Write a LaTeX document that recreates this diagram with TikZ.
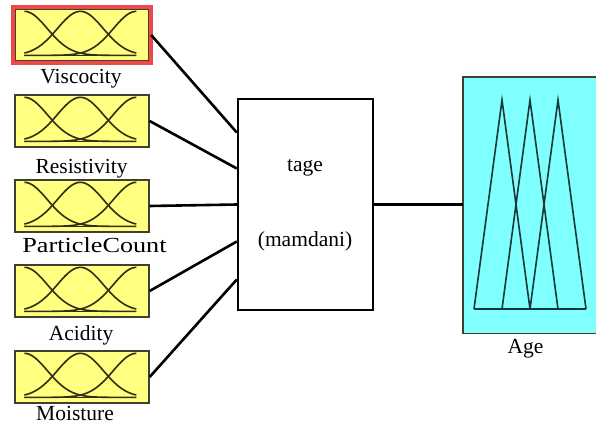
\documentclass[tikz,border=0pt]{standalone}
\usepackage{fontspec}
\setmainfont{Liberation Serif}
\usetikzlibrary{calc}
\definecolor{mfyellow}{HTML}{FFFF80}
\definecolor{mfcyan}{HTML}{80FFFF}
\definecolor{mfred}{HTML}{F04848}
\definecolor{mfcurve}{HTML}{303010}
\definecolor{mfedge}{HTML}{404030}
\definecolor{tricol}{HTML}{183838}
\tikzset{
  inbox/.style={draw=mfedge, line width=1.3pt, fill=mfyellow, minimum width=134pt, minimum height=52pt, inner sep=0pt},
  selbox/.style={draw=mfred, line width=3.5pt},
  mfline/.style={draw=mfcurve, line width=1.6pt},
  conn/.style={draw=black, line width=2.6pt},
  lbl/.style={font=\fontsize{21.5}{25}\selectfont, anchor=base, inner sep=0pt},
  rulebox/.style={draw=black, line width=2.4pt, fill=white, minimum width=135pt, minimum height=211pt, inner sep=0pt},
  outbox/.style={draw=none, fill=mfcyan, minimum width=140pt, minimum height=256pt, inner sep=0pt},
  triline/.style={draw=tricol, line width=1.6pt, line join=miter}
}
\newcommand\mfcurves[1]{%
  \begin{scope}[shift={(#1.north west)}]
    \draw[mfline] plot[domain=0:112, samples=70] ({10+\x}, {3+44*(1-exp(-(\x*\x)/1060))});
    \draw[mfline] plot[domain=0:112, samples=70] ({10+\x}, {3+44*(1-exp(-((\x-56)*(\x-56))/1060))});
    \draw[mfline] plot[domain=0:112, samples=70] ({10+\x}, {3+44*(1-exp(-((\x-112)*(\x-112))/1060))});
    \draw[mfline] (10,47) -- (122,47);
  \end{scope}}
\begin{document}
\begin{tikzpicture}[x=1pt, y=-1pt]
\useasboundingbox (0,0) rectangle (596,428);
\begin{scope}
\clip (0,0) rectangle (596,428);
% output box
\node[outbox, anchor=north west] (age) at (463,77) {};
\draw[mfedge, line width=1.2pt] (age.north east) -- (age.north west) -- (age.south west) -- (age.south east);
\end{scope}
\coordinate (t1) at (474,309);
\coordinate (t2) at (502,309);
\coordinate (t3) at (530,309);
\coordinate (t4) at (558,309);
\coordinate (t5) at (586,309);
\coordinate (p1) at (502,100);
\coordinate (p2) at (530,100);
\coordinate (p3) at (558,100);
\draw[triline] (t1) -- (p1) -- (t3);
\draw[triline] (t2) -- (p2) -- (t4);
\draw[triline] (t3) -- (p3) -- (t5);
\draw[triline] (t1) -- (t5);
\node[lbl] (agel) at (525.5,353) {Age};

% input boxes
\node[inbox] (visc) at (82,35) {};
\node[inbox] (resi) at (82,121) {};
\node[inbox] (part) at (82,206) {};
\node[inbox] (acid) at (82,291) {};
\node[inbox] (mois) at (82,377) {};
\mfcurves{visc}
\mfcurves{resi}
\mfcurves{part}
\mfcurves{acid}
\mfcurves{mois}
\draw[selbox] ([xshift=-1.5pt,yshift=1.5pt]visc.north west) rectangle ([xshift=1.5pt,yshift=-1.5pt]visc.south east);

\node[lbl] (viscl) at (81,83) {Viscocity};
\node[lbl] (resil) at (81.5,173) {Resistivity};
\node[lbl] (partl) at (94.5,252.5) {\scalebox{1.22}[1]{ParticleCount}};
\node[lbl] (acidl) at (81,340) {Acidity};
\node[lbl] (moisl) at (75,420) {Moisture};

% rule box
\node[rulebox] (mid) at (305.5,204.5) {};
\node[lbl] (tage) at (305,171.5) {tage};
\node[lbl] (mamd) at (305,246) {(mamdani)};

% connectors
\draw[conn] ([xshift=1.5pt]visc.east) -- ([yshift=72pt]mid.west);
\draw[conn] (resi.east) -- ([yshift=36pt]mid.west);
\draw[conn] (part.east) -- (mid.west);
\draw[conn] (acid.east) -- ([yshift=-37pt]mid.west);
\draw[conn] (mois.east) -- ([yshift=-75pt]mid.west);
\draw[conn] (mid.east) -- (age.west |- mid.east);
\end{tikzpicture}
\end{document}
